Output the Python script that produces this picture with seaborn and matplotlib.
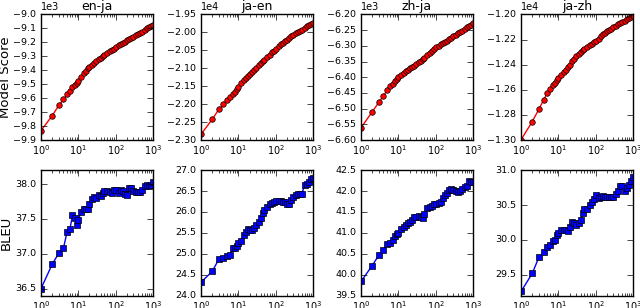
import numpy as np
import pandas as pd
import seaborn as sns
import matplotlib
matplotlib.use("Agg")
import matplotlib.pyplot as plt

plt.style.use("classic")
plt.rcParams.update({
    "figure.facecolor": "white",
    "savefig.facecolor": "white",
    "font.family": ["DejaVu Sans"],
    "mathtext.fontset": "dejavusans",
    "xtick.labelsize": 7,
    "ytick.labelsize": 6.8,
    "xtick.major.pad": 2.5,
    "ytick.major.pad": 3.5,
    "axes.titlesize": 9,
    "axes.labelsize": 9.5,
})

pairs = ["en-ja", "ja-en", "zh-ja", "ja-zh"]

# n-best size (x axis)
nbest = [1, 2, 3, 4, 5, 6, 7, 8, 9, 10, 12, 14, 16, 18, 20, 23, 26, 30, 35, 40,
         45, 50, 60, 70, 80, 90, 100, 120, 140, 160, 180, 200, 230, 260, 300,
         350, 400, 450, 500, 600, 700, 800, 900, 1000]

# model score
score_en_ja = [-9833, -9726, -9652, -9609, -9573, -9547, -9523, -9506, -9492, -9478,
               -9447, -9423, -9405, -9387, -9373, -9361, -9349, -9337, -9322, -9310,
               -9301, -9291, -9277, -9265, -9253, -9245, -9235, -9222, -9211, -9202,
               -9194, -9186, -9177, -9168, -9159, -9147, -9139, -9130, -9123, -9111,
               -9100, -9091, -9083, -9077]
score_ja_en = [-22840, -22425, -22147, -22007, -21890, -21800, -21720, -21655, -21590, -21534,
               -21423, -21330, -21265, -21205, -21154, -21094, -21043, -20983, -20922, -20862,
               -20806, -20764, -20681, -20616, -20551, -20505, -20449, -20384, -20328, -20282,
               -20240, -20203, -20152, -20110, -20059, -20013, -19980, -19948, -19920, -19869,
               -19827, -19790, -19758, -19725]
score_zh_ja = [-6561, -6510, -6480, -6459, -6442, -6428, -6420, -6411, -6406, -6400,
               -6393, -6386, -6381, -6377, -6372, -6368, -6363, -6358, -6353, -6348,
               -6343, -6338, -6329, -6322, -6315, -6311, -6305, -6299, -6294, -6291,
               -6287, -6284, -6279, -6276, -6270, -6265, -6260, -6256, -6252, -6245,
               -6240, -6236, -6232, -6228]
score_ja_zh = [-12998, -12853, -12755, -12683, -12629, -12592, -12565, -12544, -12525, -12509,
               -12483, -12461, -12439, -12418, -12399, -12374, -12352, -12331, -12313, -12298,
               -12286, -12276, -12260, -12246, -12233, -12223, -12213, -12192, -12173, -12157,
               -12145, -12135, -12123, -12112, -12100, -12088, -12078, -12070, -12062, -12048,
               -12038, -12028, -12020, -12013]

# BLEU
bleu_en_ja = [36.50, 36.85, 37.01, 37.08, 37.31, 37.36, 37.55, 37.52, 37.42, 37.49,
              37.60, 37.64, 37.65, 37.65, 37.72, 37.79, 37.81, 37.80, 37.84, 37.83,
              37.87, 37.90, 37.90, 37.89, 37.87, 37.92, 37.92, 37.87, 37.92, 37.90,
              37.86, 37.85, 37.94, 37.95, 37.90, 37.88, 37.88, 37.89, 37.91, 37.97,
              37.98, 37.97, 37.98, 38.03]
bleu_ja_en = [24.32, 24.58, 24.87, 24.89, 24.95, 24.97, 25.13, 25.13, 25.19, 25.25,
              25.31, 25.45, 25.52, 25.60, 25.57, 25.58, 25.61, 25.69, 25.75, 25.85,
              25.98, 26.05, 26.12, 26.18, 26.22, 26.25, 26.26, 26.26, 26.26, 26.25,
              26.23, 26.20, 26.19, 26.28, 26.35, 26.41, 26.44, 26.43, 26.43, 26.64,
              26.67, 26.72, 26.79, 26.82]
bleu_zh_ja = [39.84, 40.22, 40.47, 40.59, 40.73, 40.77, 40.82, 40.92, 40.98, 41.00,
              41.10, 41.13, 41.18, 41.24, 41.27, 41.32, 41.37, 41.39, 41.40, 41.37,
              41.35, 41.45, 41.60, 41.62, 41.65, 41.68, 41.70, 41.72, 41.74, 41.84,
              41.90, 41.95, 42.02, 42.04, 42.03, 42.00, 41.98, 41.99, 42.05, 42.10,
              42.13, 42.24, 42.22, 42.21]
bleu_ja_zh = [29.26, 29.52, 29.75, 29.82, 29.90, 29.93, 29.98, 30.00, 30.07, 30.10,
              30.14, 30.14, 30.14, 30.13, 30.19, 30.25, 30.24, 30.22, 30.24, 30.29,
              30.38, 30.44, 30.45, 30.50, 30.55, 30.59, 30.64, 30.60, 30.62, 30.63,
              30.62, 30.62, 30.61, 30.61, 30.62, 30.66, 30.70, 30.77, 30.77, 30.70,
              30.75, 30.79, 30.84, 30.90]

scores = [score_en_ja, score_ja_en, score_zh_ja, score_ja_zh]
bleus = [bleu_en_ja, bleu_ja_en, bleu_zh_ja, bleu_ja_zh]
score_lims = [(-9900, -9000), (-23000, -19500), (-6600, -6200), (-13000, -12000)]
score_steps = [100, 500, 50, 200]
bleu_lims = [(36.4, 38.2), (24.0, 27.0), (39.5, 42.5), (29.2, 31.0)]

fig, axes = plt.subplots(2, 4, figsize=(6.4, 3.08), dpi=100)
fig.subplots_adjust(left=0.064, right=0.989, top=0.953, bottom=0.04,
                    wspace=0.43, hspace=0.24)

for i, pair in enumerate(pairs):
    ax = axes[0, i]
    sns.lineplot(x=nbest, y=scores[i], ax=ax, color="red", marker="o",
                 markersize=4, markeredgecolor="black", markeredgewidth=0.5,
                 linewidth=1)
    ax.set_xscale("log")
    ax.set_xlim(1, 1000)
    ax.set_ylim(*score_lims[i])
    ax.set_yticks(np.arange(score_lims[i][0], score_lims[i][1] + 1, score_steps[i]))
    ax.ticklabel_format(axis="y", style="sci", scilimits=(0, 0), useOffset=False)
    ax.yaxis.get_offset_text().set_fontsize(7)
    ax.set_title(pair, pad=3)

    ax = axes[1, i]
    sns.lineplot(x=nbest, y=bleus[i], ax=ax, color="blue", marker="s",
                 markersize=4, markeredgecolor="black", markeredgewidth=0.5,
                 linewidth=1)
    ax.set_xscale("log")
    ax.set_xlim(1, 1000)
    ax.set_ylim(*bleu_lims[i])

for ax in axes.flat:
    ax.set_xlabel("")
    ax.set_ylabel("")

axes[0, 0].set_ylabel("Model Score")
axes[1, 0].set_ylabel("BLEU")
for ax in axes[:, 0]:
    ax.yaxis.set_label_coords(-0.255, 0.5)

fig.savefig("out.png", dpi=100)
